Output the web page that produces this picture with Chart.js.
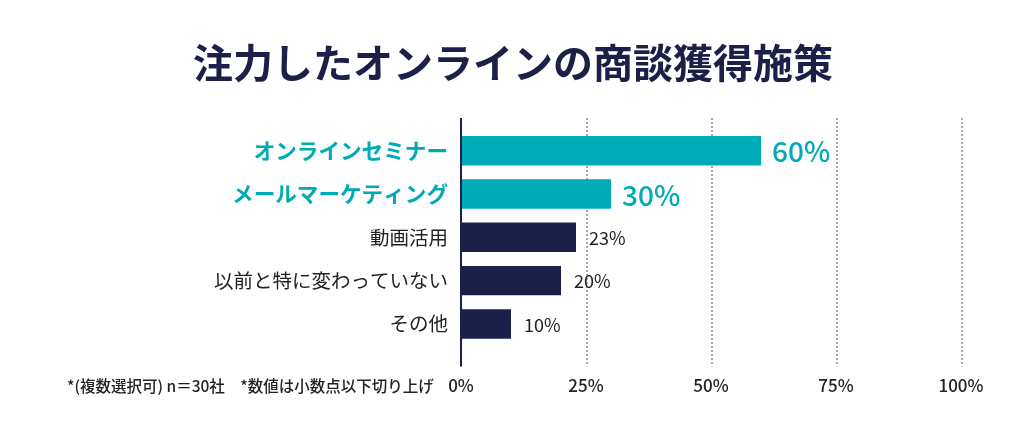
<!DOCTYPE html>
<html>
<head>
<meta charset="utf-8">
<script src="https://cdn.jsdelivr.net/npm/chart.js@4"></script>
<style>
  html, body { margin: 0; padding: 0; background: #fff; }
  #wrap { width: 1024px; height: 445px; position: relative; }
</style>
</head>
<body>
<div id="wrap"><canvas id="chart"></canvas></div>
<script>
const categories = ['オンラインセミナー', 'メールマーケティング', '動画活用', '以前と特に変わっていない', 'その他'];
const values = [60, 30, 23, 20, 10];
const valueLabels = ['60%', '30%', '23%', '20%', '10%'];
const highlighted = [true, true, false, false, false];
const xTicks = [0, 25, 50, 75, 100];
const titleText = '注力したオンラインの商談獲得施策';
const noteText = '*(複数選択可) n＝30社　*数値は小数点以下切り上げ';

const TEAL = '#00abb8';
const NAVY = '#1c2049';
const FONT = '"Noto Sans CJK JP", "Noto Sans", sans-serif';

// dotted grid lines + axis line, a bit taller than the bar area
const gridPlugin = {
  id: 'gridLines',
  beforeDatasetsDraw(chart) {
    const { ctx, scales: { x } } = chart;
    const top = chart.chartArea.top - 11;
    const bottom = chart.chartArea.bottom + 21;
    ctx.save();
    ctx.strokeStyle = '#a8a8a8';
    ctx.lineWidth = 2;
    ctx.setLineDash([2, 2]);
    xTicks.slice(1).forEach(v => {
      const px = Math.round(x.getPixelForValue(v)) + 1;
      ctx.beginPath();
      ctx.moveTo(px, top);
      ctx.lineTo(px, bottom);
      ctx.stroke();
    });
    ctx.restore();
  },
  afterDatasetsDraw(chart) {
    const { ctx, scales: { x } } = chart;
    const meta = chart.getDatasetMeta(0);
    ctx.save();
    // title
    ctx.fillStyle = NAVY;
    ctx.font = 'bold 40px ' + FONT;
    ctx.textAlign = 'center';
    ctx.textBaseline = 'middle';
    ctx.fillText(titleText, 513, 63);
    // value labels
    ctx.textAlign = 'left';
    meta.data.forEach((bar, i) => {
      if (highlighted[i]) {
        ctx.fillStyle = TEAL;
        ctx.font = '500 28px ' + FONT;
        ctx.fillText(valueLabels[i], bar.x + 11, bar.y + 1);
      } else {
        ctx.fillStyle = '#222';
        ctx.font = '18px ' + FONT;
        ctx.fillText(valueLabels[i], bar.x + 13, bar.y + 1);
      }
    });
    // axis line
    const x0 = x.getPixelForValue(0);
    ctx.strokeStyle = NAVY;
    ctx.lineWidth = 2;
    ctx.beginPath();
    ctx.moveTo(x0, chart.chartArea.top - 11);
    ctx.lineTo(x0, chart.chartArea.bottom + 21);
    ctx.stroke();
    // footnote
    ctx.fillStyle = '#222';
    ctx.font = '500 15.5px ' + FONT;
    ctx.fillText(noteText, 67, 386);
    ctx.restore();
  }
};

new Chart(document.getElementById('chart'), {
  type: 'bar',
  data: {
    labels: categories,
    datasets: [{
      data: values,
      backgroundColor: highlighted.map(h => h ? TEAL : NAVY),
      categoryPercentage: 1,
      barPercentage: 0.68
    }]
  },
  options: {
    indexAxis: 'y',
    responsive: true,
    maintainAspectRatio: false,
    animation: false,
    layout: { padding: { top: 129, right: 63, bottom: 19, left: 0 } },
    plugins: {
      legend: { display: false },
      tooltip: { enabled: false },
      title: { display: false }
    },
    scales: {
      x: {
        min: 0,
        max: 100,
        afterBuildTicks: s => { s.ticks = xTicks.map(v => ({ value: v })); },
        grid: { display: false, drawTicks: false },
        border: { display: false },
        ticks: {
          padding: 30,
          color: '#222',
          font: { family: FONT, size: 17, weight: 500 },
          callback: v => v + '%'
        }
      },
      y: {
        afterFit: s => { s.width = 461; },
        grid: { display: false, drawTicks: false },
        border: { display: false },
        ticks: {
          padding: 13,
          color: c => highlighted[c.index] ? TEAL : '#222',
          font: c => highlighted[c.index]
            ? { family: FONT, size: 21.6, weight: 'bold' }
            : { family: FONT, size: 19.5 }
        }
      }
    }
  },
  plugins: [gridPlugin]
});
</script>
</body>
</html>
